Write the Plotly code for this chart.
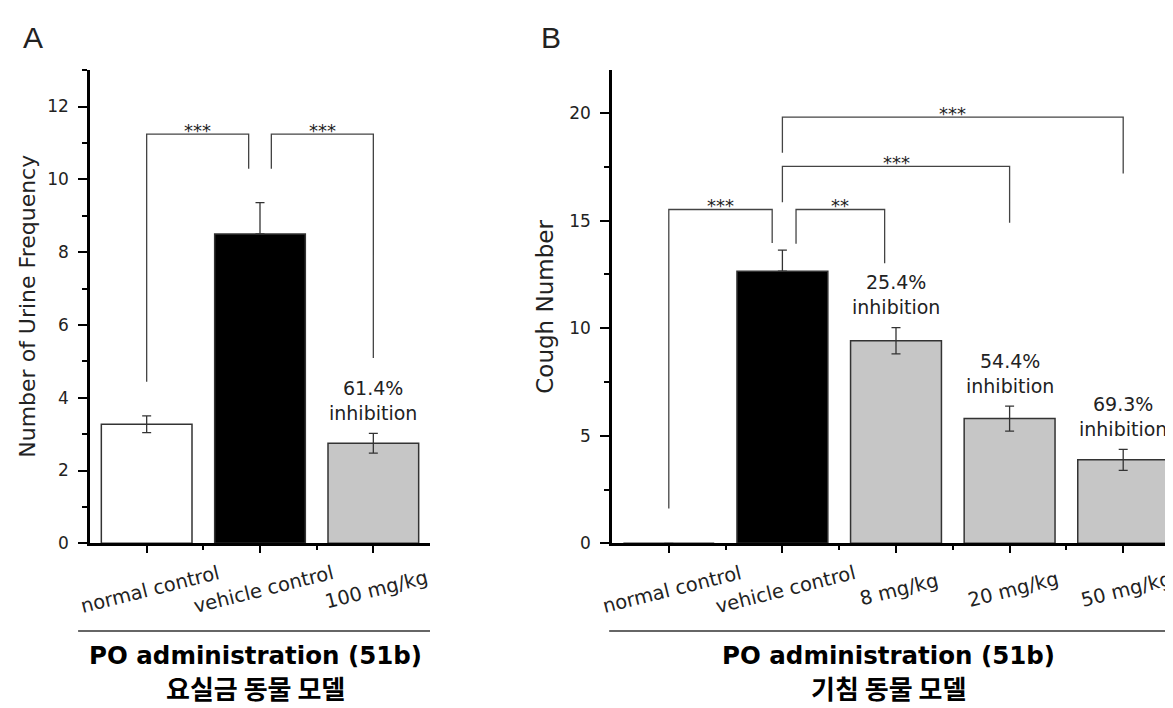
import plotly.graph_objects as go

# ---------------- data ----------------
a_categories = ["normal control", "vehicle control", "100 mg/kg"]
a_values = [3.27, 8.50, 2.75]
a_err_plus = [0.23, 0.86, 0.27]
a_err_minus = [0.23, 0.0, 0.27]
a_colors = ["white", "black", "#c6c6c6"]
a_inhibition = [None, None, "61.4%"]
# brackets: left category, right category, bracket level, left-leg end, right-leg end, label
a_brackets = [
    (0.0, 0.9, 11.24, 4.44, 10.29, "***"),
    (1.1, 2.0, 11.24, 10.29, 5.09, "***"),
]

b_categories = ["normal control", "vehicle control", "8 mg/kg", "20 mg/kg", "50 mg/kg"]
b_values = [0.0, 12.65, 9.42, 5.80, 3.88]
b_err_plus = [0.0, 0.98, 0.61, 0.58, 0.49]
b_err_minus = [0.0, 0.0, 0.61, 0.58, 0.49]
b_colors = ["white", "black", "#c6c6c6", "#c6c6c6", "#c6c6c6"]
b_inhibition = [None, None, "25.4%", "54.4%", "69.3%"]
b_brackets = [
    (0.0, 0.91, 15.52, 1.62, 13.96, "***"),
    (1.12, 1.9, 15.52, 13.93, 13.02, "**"),
    (1.0, 3.0, 17.52, 15.86, 14.90, "***"),
    (1.0, 4.0, 19.81, 18.16, 17.19, "***"),
]

a_ytitle = "Number of Urine Frequency"
b_ytitle = "Cough Number"
group_title = "PO administration (51b)"
a_model = "요실금 동물 모델"
b_model = "기침 동물 모델"

TXT = "#222222"
LINE = "#333333"
FONT = "DejaVu Sans"

fig = go.Figure()

panels = [
    dict(cats=a_categories, vals=a_values, ep=a_err_plus, em=a_err_minus, cols=a_colors,
         inh=a_inhibition, br=a_brackets, xa="x", ya="y", rng=[0, 13], dtick=2,
         xdom=[82 / 1173, 422 / 1173], ytitle=a_ytitle, ytsize=22, ytx=20, letter="A", lx=25,
         model=a_model, line_start=-0.035),
    dict(cats=b_categories, vals=b_values, ep=b_err_plus, em=b_err_minus, cols=b_colors,
         inh=b_inhibition, br=b_brackets, xa="x2", ya="y2", rng=[0, 22], dtick=5,
         xdom=[604 / 1173, 1172 / 1173], ytitle=b_ytitle, ytsize=23, ytx=537, letter="B", lx=543,
         model=b_model, line_start=-0.005),
]

ydom = [(708 - 543) / 708, (708 - 63) / 708]
shapes = []
annotations = []

for k, p in enumerate(panels):
    n = len(p["cats"])
    xs = list(range(n))
    fig.add_trace(go.Bar(
        x=xs, y=p["vals"], width=0.8,
        marker=dict(color=p["cols"], line=dict(color=LINE, width=1.5)),
        error_y=dict(type="data", symmetric=False, array=p["ep"], arrayminus=p["em"],
                     color=LINE, thickness=1.3, width=4.5),
        xaxis=p["xa"], yaxis=p["ya"], showlegend=False, hoverinfo="skip",
    ))
    sfx = "" if k == 0 else "2"
    fig.update_layout(**{
        "xaxis" + sfx: dict(domain=p["xdom"], range=[-0.5, n - 0.5], anchor=p["ya"],
                            tickvals=xs, ticktext=[""] * n, ticks="outside", ticklen=7,
                            tickwidth=2, tickcolor="black",
                            minor=dict(tickvals=[i + 0.5 for i in range(n - 1)], ticks="outside",
                                       ticklen=4, tickwidth=1.5, tickcolor="black"),
                            showline=True, linecolor="black", linewidth=2.5,
                            showgrid=False, zeroline=False, fixedrange=True),
        "yaxis" + sfx: dict(domain=ydom, range=p["rng"], anchor=p["xa"], dtick=p["dtick"], tick0=0,
                            ticks="outside", ticklen=9, tickwidth=2, tickcolor="black",
                            ticklabelstandoff=6,
                            minor=dict(dtick=p["dtick"] / 2, ticks="outside", ticklen=5,
                                       tickwidth=1.5, tickcolor="black"),
                            tickfont=dict(family=FONT, size=17, color=TXT),
                            showline=True, linecolor="black", linewidth=2.5,
                            showgrid=False, zeroline=False, fixedrange=True),
    })

    # rotated category labels
    for i, c in enumerate(p["cats"]):
        annotations.append(dict(
            x=i + 0.03, xref=p["xa"], y=(708 - 590) / 708, yref="paper",
            text=c, textangle=-14, showarrow=False, xanchor="center", yanchor="middle",
            font=dict(family=FONT, size=19.5, color=TXT)))

    # inhibition text
    for i, t in enumerate(p["inh"]):
        if t:
            annotations.append(dict(
                x=i, xref=p["xa"], y=p["vals"][i] + p["ep"][i], yref=p["ya"],
                text=t + "<br>inhibition", showarrow=False, xanchor="center",
                yanchor="middle", yshift=33,
                font=dict(family=FONT, size=19, color=TXT)))

    # significance brackets
    for (x0, x1, yl, y0, y1, lab) in p["br"]:
        shapes.append(dict(
            type="path", xref=p["xa"], yref=p["ya"],
            path=f"M {x0},{y0} L {x0},{yl} L {x1},{yl} L {x1},{y1}",
            line=dict(color="#444444", width=1.3)))
        annotations.append(dict(
            x=(x0 + x1) / 2, xref=p["xa"], y=yl, yref=p["ya"], text=lab,
            showarrow=False, xanchor="center", yanchor="middle", yshift=4,
            font=dict(family=FONT, size=18, color=TXT)))

    # y title
    annotations.append(dict(
        x=p["ytx"] / 1173, xref="paper", y=0.5, yref=p["ya"] + " domain",
        text=p["ytitle"], textangle=-90, showarrow=False, xanchor="center", yanchor="middle",
        font=dict(family=FONT, size=p["ytsize"], color=TXT)))

    # panel letter
    annotations.append(dict(
        x=p["lx"] / 1173, xref="paper", y=(708 - 30) / 708, yref="paper", text=p["letter"],
        showarrow=False, xanchor="center", yanchor="middle",
        font=dict(family="Liberation Sans", size=30, color=TXT)))

    # group line and titles
    shapes.append(dict(
        type="line", xref=p["xa"] + " domain", yref="paper",
        x0=p["line_start"], x1=1.0, y0=(708 - 632) / 708, y1=(708 - 632) / 708,
        line=dict(color=LINE, width=1.5)))
    annotations.append(dict(
        x=0.487, xref=p["xa"] + " domain", y=(708 - 657) / 708, yref="paper",
        text="<b>" + group_title + "</b>", showarrow=False, xanchor="center", yanchor="middle",
        font=dict(family=FONT, size=24.5, color="black")))
    annotations.append(dict(
        x=0.487, xref=p["xa"] + " domain", y=(708 - 689) / 708, yref="paper",
        text="<b>" + p["model"] + "</b>", showarrow=False, xanchor="center", yanchor="middle",
        font=dict(family="Noto Sans CJK KR", size=26, color="black")))

fig.update_layout(
    width=1173, height=708,
    margin=dict(l=0, r=0, t=0, b=0),
    paper_bgcolor="white", plot_bgcolor="white",
    shapes=shapes, annotations=annotations,
    bargap=0.2,
)

fig.write_html("out.html")
